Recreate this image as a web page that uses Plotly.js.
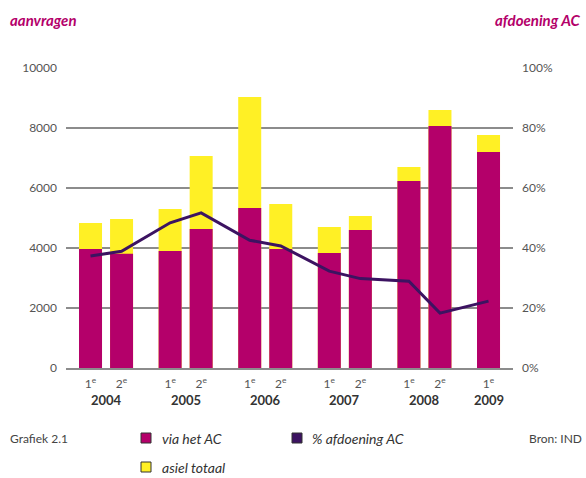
<!DOCTYPE html>
<html><head><meta charset="utf-8">
<script src="https://cdn.plot.ly/plotly-3.0.1.min.js"></script>
<style>body{margin:0;background:#fff}#c{width:586px;height:478px}</style>
</head><body><div id="c"></div>
<script>
const years   = ['2004','2004','2005','2005','2006','2006','2007','2007','2008','2008','2009'];
const halves  = [1,2,1,2,1,2,1,2,1,2,1];
const asielTotaal = [4830,4970,5300,7070,9030,5470,4700,5070,6700,8600,7770];
const viaHetAC    = [3970,3810,3900,4630,5330,3970,3830,4600,6230,8070,7200];
const pctAfdoening = [37.3,38.9,48.4,51.7,42.6,40.7,32.3,29.8,28.9,18.3,22.3];
const yearLabels = ['2004','2005','2006','2007','2008','2009'];

const L = 66, R = 513, T = 68, B = 368, W = 586, H = 478;
const halfStep = 0.39;
const xs = years.map((y,i)=> (+y - 2004) + (halves[i]-1)*halfStep);
const tickText = halves.map(h => h + '<sup>e</sup>');
const px = v => (v - L)/(R - L);
const py = v => (B - v)/(B - T);

const MAG = '#b4006a', YEL = '#fff025', PUR = '#3c1361';
const FONT = 'Lato, "Open Sans", sans-serif';

const traces = [
  {type:'bar', x:xs, y:asielTotaal, name:'asiel totaal', marker:{color:YEL, line:{width:0}}, width:0.289, showlegend:false, hoverinfo:'skip'},
  {type:'bar', x:xs, y:viaHetAC, name:'via het AC', marker:{color:MAG, line:{width:0}}, width:0.289, showlegend:false, hoverinfo:'skip'},
  {type:'scatter', mode:'lines', x:xs, y:pctAfdoening, yaxis:'y2', name:'% afdoening AC', line:{color:PUR, width:3}, showlegend:false, hoverinfo:'skip'}
];

const yearCenters = yearLabels.map((y,i)=> i + (i < 5 ? halfStep/2 : 0));
const annotations = [
  {text:'<b><i>aanvragen</i></b>', xref:'paper', yref:'paper', x:px(8), y:py(20), xanchor:'left', yanchor:'middle', showarrow:false, font:{family:FONT, size:15, color:MAG}},
  {text:'<b><i>afdoening AC</i></b>', xref:'paper', yref:'paper', x:px(582), y:py(20), xanchor:'right', yanchor:'middle', showarrow:false, font:{family:FONT, size:15, color:MAG}},
  {text:'Grafiek 2.1', xref:'paper', yref:'paper', x:px(8), y:py(438), xanchor:'left', yanchor:'middle', showarrow:false, font:{family:FONT, size:12, color:'#444'}},
  {text:'<i>via het AC</i>', xref:'paper', yref:'paper', x:px(160), y:py(438), xanchor:'left', yanchor:'middle', showarrow:false, font:{family:FONT, size:14, color:'#333'}},
  {text:'<i>% afdoening AC</i>', xref:'paper', yref:'paper', x:px(310), y:py(438), xanchor:'left', yanchor:'middle', showarrow:false, font:{family:FONT, size:14, color:'#333'}},
  {text:'<i>asiel totaal</i>', xref:'paper', yref:'paper', x:px(160), y:py(467), xanchor:'left', yanchor:'middle', showarrow:false, font:{family:FONT, size:14, color:'#333'}},
  {text:'Bron: IND', xref:'paper', yref:'paper', x:px(584), y:py(438), xanchor:'right', yanchor:'middle', showarrow:false, font:{family:FONT, size:12, color:'#444'}}
];
yearLabels.forEach((y,i)=>annotations.push({text:'<b>'+y+'</b>', xref:'x', yref:'paper', x:yearCenters[i], y:py(400), xanchor:'center', yanchor:'middle', showarrow:false, font:{family:FONT, size:13, color:'#333'}}));

const sq = (x,y,c)=>({type:'rect', xref:'paper', yref:'paper', x0:px(x), x1:px(x+10), y0:py(y+5), y1:py(y-5), fillcolor:c, line:{color:'#333', width:1}});
const shapes = [sq(141,438,MAG), sq(292,438,PUR), sq(141,467,YEL)];

const layout = {
  width:W, height:H,
  margin:{l:L, r:W-R, t:T, b:H-B, pad:0},
  paper_bgcolor:'#fff', plot_bgcolor:'#fff',
  barmode:'overlay', showlegend:false,
  font:{family:FONT, color:'#555'},
  xaxis:{range:[-0.308, -0.308 + (R-L)/79.6], tickvals:xs, ticktext:tickText, showgrid:false, zeroline:false,
         showline:true, linecolor:'#8c8c8c', linewidth:2, ticks:'', tickfont:{family:FONT, size:12, color:'#555'}, ticklabelstandoff:4, fixedrange:true},
  yaxis:{range:[0,10000], dtick:2000, tickformat:'d', showgrid:true, gridcolor:'#8c8c8c', gridwidth:1.5, zeroline:false,
         ticks:'', tickfont:{family:FONT, size:12, color:'#555'}, ticklabelstandoff:8},
  yaxis2:{range:[0,100], dtick:20, ticksuffix:'%', overlaying:'y', side:'right', showgrid:false, zeroline:false,
         ticks:'', tickfont:{family:FONT, size:12, color:'#555'}, ticklabelstandoff:8},
  annotations, shapes
};
Plotly.newPlot('c', traces, layout, {staticPlot:true});
</script></body></html>
